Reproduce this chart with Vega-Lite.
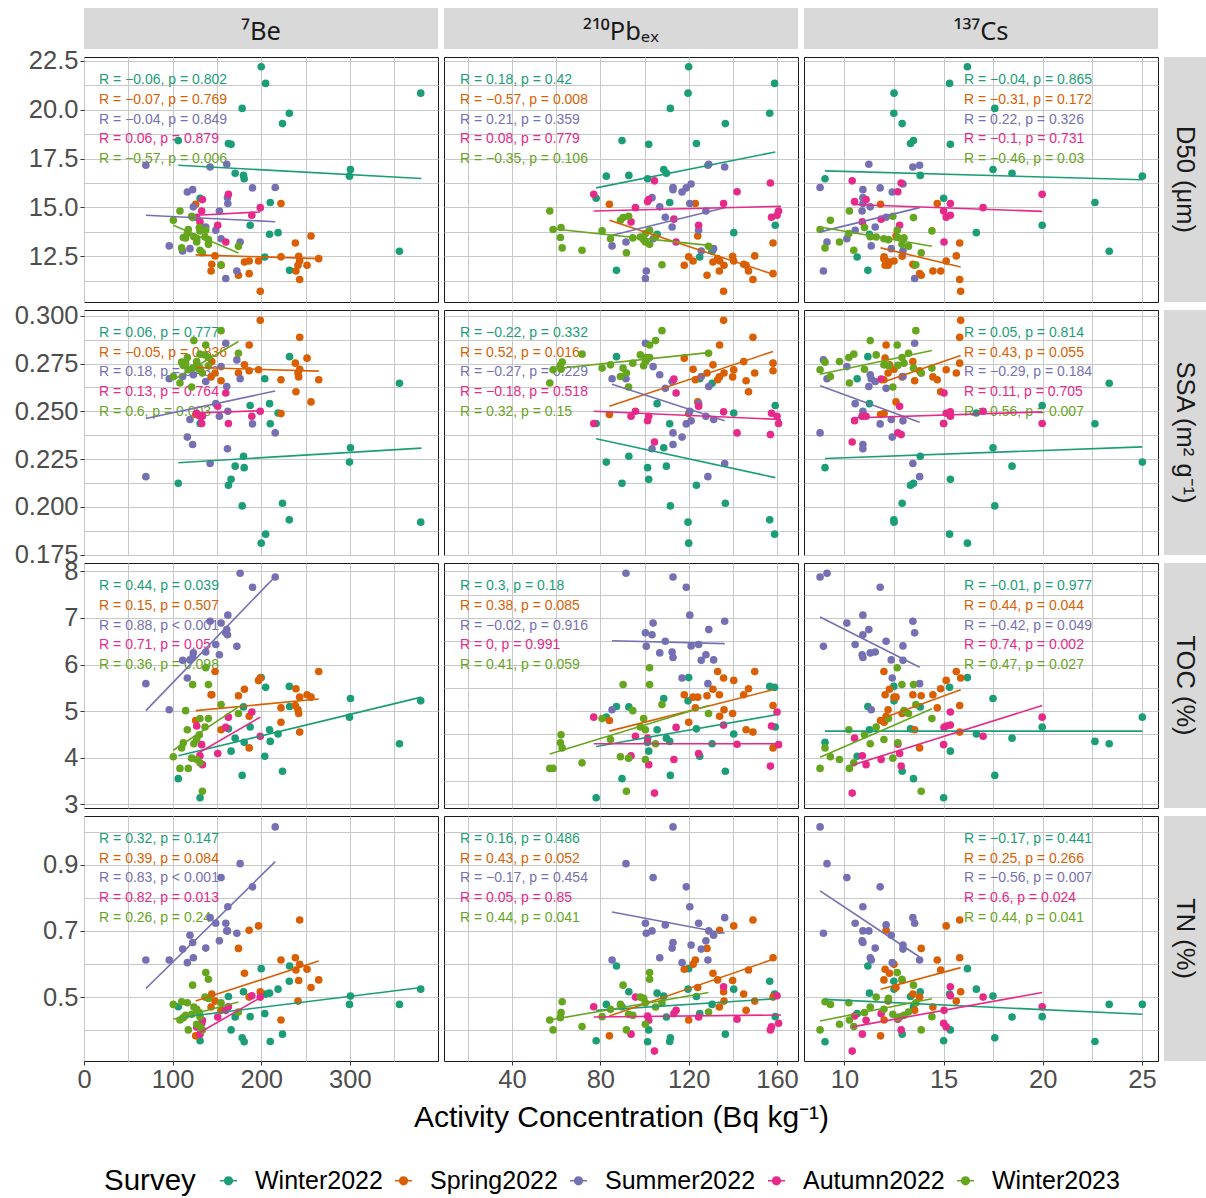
{
"$schema": "https://vega.github.io/schema/vega-lite/v6.json",
"padding": {"left": 13, "top": 8, "right": 0, "bottom": 0},
"background": "white",
"config": {
  "font": "Liberation Sans",
  "view": {"stroke": "#1A1A1A", "strokeWidth": 1},
  "range": {"category": ["#1B9E77", "#D95F02", "#7570B3", "#E7298A", "#66A61E"]},
  "axis": {"labelFont": "Liberation Sans", "labelFontSize": 25.5, "labelColor": "#4D4D4D", "tickColor": "#333333", "tickSize": 4, "tickWidth": 1, "gridColor": "#C8C8C8", "gridWidth": 1, "grid": true, "domain": false, "labelPadding": 2, "minExtent": 0, "labelOverlap": false, "labelFlush": false, "labelBound": false, "titleFont": "Liberation Sans", "titleFontSize": 30, "titleFontWeight": "normal", "titleColor": "#000000"},
  "legend": {"titleFontSize": 29.5, "titleFontWeight": "normal", "titleColor": "#000000", "titlePadding": 20, "labelFontSize": 25, "labelColor": "#000000", "labelOffset": 14, "columnPadding": 8, "symbolSize": 289, "symbolStrokeWidth": 1.6, "symbolOpacity": 1, "padding": 0, "titleFont": "Liberation Sans", "labelFont": "Liberation Sans"}
},
"datasets": {
"s": [
{"g":"Winter2022","Be":200,"Pb":120,"Cs":16.2,"D50":22.2,"SSA":0.181,"TOC":5.72,"TN":0.586},
{"g":"Winter2022","Be":205,"Pb":158.9,"Cs":15.3,"D50":21.35,"SSA":0.1857,"TOC":5.51,"TN":0.509},
{"g":"Winter2022","Be":380,"Pb":119.7,"Cs":12.5,"D50":20.85,"SSA":0.192,"TOC":5.22,"TN":0.524},
{"g":"Winter2022","Be":178.5,"Pb":111.7,"Cs":17.58,"D50":20.07,"SSA":0.2005,"TOC":3.62,"TN":0.377},
{"g":"Winter2022","Be":231.7,"Pb":156.7,"Cs":12.49,"D50":19.82,"SSA":0.1932,"TOC":5.53,"TN":0.548},
{"g":"Winter2022","Be":224,"Pb":136.6,"Cs":12.91,"D50":19.29,"SSA":0.2019,"TOC":3.71,"TN":0.388},
{"g":"Winter2022","Be":106.4,"Pb":89.8,"Cs":13.48,"D50":18.42,"SSA":0.2123,"TOC":3.55,"TN":0.471},
{"g":"Winter2022","Be":163,"Pb":123.5,"Cs":13.33,"D50":18.27,"SSA":0.2113,"TOC":4.62,"TN":0.502},
{"g":"Winter2022","Be":166,"Pb":101.9,"Cs":15.34,"D50":18.23,"SSA":0.2144,"TOC":4.14,"TN":0.401},
{"g":"Winter2022","Be":300.7,"Pb":108.7,"Cs":17.49,"D50":16.94,"SSA":0.2309,"TOC":5.27,"TN":0.503},
{"g":"Winter2022","Be":170.6,"Pb":109.9,"Cs":18.45,"D50":16.75,"SSA":0.2213,"TOC":4.42,"TN":0.44},
{"g":"Winter2022","Be":180,"Pb":92.9,"Cs":13.82,"D50":16.64,"SSA":0.2265,"TOC":5.09,"TN":0.516},
{"g":"Winter2022","Be":299.6,"Pb":82.7,"Cs":25.02,"D50":16.6,"SSA":0.2234,"TOC":4.87,"TN":0.478},
{"g":"Winter2022","Be":180.8,"Pb":101.4,"Cs":9.02,"D50":16.47,"SSA":0.2205,"TOC":4.33,"TN":0.365},
{"g":"Winter2022","Be":131,"Pb":78.1,"Cs":15.0,"D50":15.47,"SSA":0.2436,"TOC":3.14,"TN":0.368},
{"g":"Winter2022","Be":210.2,"Pb":111.4,"Cs":22.63,"D50":15.25,"SSA":0.2435,"TOC":4.35,"TN":0.366},
{"g":"Winter2022","Be":187.5,"Pb":159.2,"Cs":19.97,"D50":14.09,"SSA":0.253,"TOC":4.66,"TN":0.441},
{"g":"Winter2022","Be":219,"Pb":140.4,"Cs":16.65,"D50":13.71,"SSA":0.2491,"TOC":4.51,"TN":0.524},
{"g":"Winter2022","Be":209.4,"Pb":105.7,"Cs":11.26,"D50":13.63,"SSA":0.254,"TOC":4.6,"TN":0.512},
{"g":"Winter2022","Be":356,"Pb":130.6,"Cs":23.35,"D50":12.76,"SSA":0.2647,"TOC":4.3,"TN":0.478},
{"g":"Winter2022","Be":204,"Pb":125,"Cs":10.64,"D50":12.46,"SSA":0.267,"TOC":4.03,"TN":0.45},
{"g":"Winter2022","Be":232,"Pb":87.3,"Cs":11.18,"D50":11.78,"SSA":0.2786,"TOC":5.1,"TN":0.594},
{"g":"Spring2022","Be":126,"Pb":84.1,"Cs":11.82,"D50":15.16,"SSA":0.2483,"TOC":4.8,"TN":0.383},
{"g":"Spring2022","Be":143.4,"Pb":133.9,"Cs":14.46,"D50":11.75,"SSA":0.268,"TOC":5.35,"TN":0.47},
{"g":"Spring2022","Be":144.2,"Pb":144.9,"Cs":13.45,"D50":12.09,"SSA":0.276,"TOC":5.35,"TN":0.509},
{"g":"Spring2022","Be":147.9,"Pb":149.9,"Cs":15.64,"D50":12.52,"SSA":0.27,"TOC":5.85,"TN":0.488},
{"g":"Spring2022","Be":154.7,"Pb":146,"Cs":13.54,"D50":12.04,"SSA":0.266,"TOC":4.6,"TN":0.46},
{"g":"Spring2022","Be":174.3,"Pb":128.3,"Cs":13.87,"D50":11.53,"SSA":0.27,"TOC":5.33,"TN":0.647},
{"g":"Spring2022","Be":181.1,"Pb":131,"Cs":12.27,"D50":12.21,"SSA":0.2743,"TOC":5.47,"TN":0.572},
{"g":"Spring2022","Be":186.4,"Pb":134,"Cs":12.1,"D50":12.26,"SSA":0.2847,"TOC":4.89,"TN":0.702},
{"g":"Spring2022","Be":186.4,"Pb":158.2,"Cs":13.79,"D50":11.61,"SSA":0.2712,"TOC":4.21,"TN":0.5},
{"g":"Spring2022","Be":197,"Pb":140.4,"Cs":15.13,"D50":12.26,"SSA":0.2717,"TOC":5.66,"TN":0.715},
{"g":"Spring2022","Be":198.9,"Pb":135.8,"Cs":15.86,"D50":10.71,"SSA":0.2976,"TOC":5.71,"TN":0.516},
{"g":"Spring2022","Be":222.3,"Pb":123,"Cs":14.68,"D50":15.2,"SSA":0.2665,"TOC":5.07,"TN":0.612},
{"g":"Spring2022","Be":222.3,"Pb":120,"Cs":12.0,"D50":12.47,"SSA":0.2488,"TOC":4.76,"TN":0.431},
{"g":"Spring2022","Be":238.5,"Pb":158.2,"Cs":15.81,"D50":13.18,"SSA":0.2752,"TOC":5.12,"TN":0.619},
{"g":"Spring2022","Be":239.2,"Pb":147.1,"Cs":14.85,"D50":11.75,"SSA":0.2602,"TOC":5.48,"TN":0.582},
{"g":"Spring2022","Be":241.5,"Pb":136,"Cs":12.2,"D50":12.04,"SSA":0.27,"TOC":5.03,"TN":0.488},
{"g":"Spring2022","Be":242.3,"Pb":139.9,"Cs":12.91,"D50":12.5,"SSA":0.268,"TOC":4.95,"TN":0.55},
{"g":"Spring2022","Be":243.4,"Pb":149.1,"Cs":15.81,"D50":11.31,"SSA":0.2887,"TOC":4.55,"TN":0.733},
{"g":"Spring2022","Be":243.4,"Pb":122,"Cs":12.5,"D50":12.26,"SSA":0.272,"TOC":5.3,"TN":0.599},
{"g":"Spring2022","Be":251.7,"Pb":118,"Cs":12.05,"D50":12.04,"SSA":0.2778,"TOC":5.35,"TN":0.584},
{"g":"Spring2022","Be":256.2,"Pb":124.1,"Cs":12.6,"D50":13.54,"SSA":0.2549,"TOC":5.3,"TN":0.529},
{"g":"Spring2022","Be":264.9,"Pb":133.1,"Cs":11.99,"D50":12.38,"SSA":0.2665,"TOC":5.85,"TN":0.552},
{"g":"Summer2022","Be":69.8,"Pb":128.7,"Cs":13.79,"D50":17.16,"SSA":0.2158,"TOC":5.59,"TN":0.612},
{"g":"Summer2022","Be":96.2,"Pb":85.3,"Cs":11.35,"D50":13.03,"SSA":0.267,"TOC":5.03,"TN":0.612},
{"g":"Summer2022","Be":111.3,"Pb":125.7,"Cs":12.95,"D50":12.77,"SSA":0.2682,"TOC":6.09,"TN":0.645},
{"g":"Summer2022","Be":116.6,"Pb":117,"Cs":12.41,"D50":15.79,"SSA":0.2365,"TOC":5.71,"TN":0.604},
{"g":"Summer2022","Be":119.6,"Pb":131.3,"Cs":12.36,"D50":12.89,"SSA":0.2457,"TOC":6.1,"TN":0.687},
{"g":"Summer2022","Be":122.6,"Pb":112.9,"Cs":10.93,"D50":15.91,"SSA":0.2326,"TOC":6.15,"TN":0.665},
{"g":"Summer2022","Be":123.4,"Pb":106.9,"Cs":11.3,"D50":15.03,"SSA":0.2691,"TOC":6.25,"TN":0.619},
{"g":"Summer2022","Be":137.4,"Pb":112.5,"Cs":11.55,"D50":14.0,"SSA":0.2656,"TOC":6.27,"TN":0.648},
{"g":"Summer2022","Be":142.3,"Pb":136.3,"Cs":13.45,"D50":17.07,"SSA":0.2227,"TOC":6.93,"TN":0.74},
{"g":"Summer2022","Be":148.7,"Pb":124.5,"Cs":10.54,"D50":13.83,"SSA":0.254,"TOC":6.43,"TN":0.723},
{"g":"Summer2022","Be":152.8,"Pb":127.8,"Cs":10.89,"D50":14.82,"SSA":0.2474,"TOC":6.21,"TN":0.67},
{"g":"Summer2022","Be":154.7,"Pb":103.9,"Cs":10.12,"D50":13.4,"SSA":0.2734,"TOC":6.89,"TN":0.861},
{"g":"Summer2022","Be":160,"Pb":100.4,"Cs":13.54,"D50":11.36,"SSA":0.2856,"TOC":6.68,"TN":0.723},
{"g":"Summer2022","Be":161.1,"Pb":129.1,"Cs":11.23,"D50":17.21,"SSA":0.263,"TOC":6.75,"TN":0.7},
{"g":"Summer2022","Be":162.3,"Pb":120.5,"Cs":10.93,"D50":15.2,"SSA":0.25,"TOC":7.06,"TN":0.773},
{"g":"Summer2022","Be":161.9,"Pb":103.4,"Cs":10.93,"D50":15.5,"SSA":0.2304,"TOC":6.64,"TN":0.7},
{"g":"Summer2022","Be":172.5,"Pb":100.8,"Cs":8.94,"D50":11.75,"SSA":0.2769,"TOC":6.39,"TN":0.693},
{"g":"Summer2022","Be":176.2,"Pb":91.6,"Cs":9.12,"D50":13.23,"SSA":0.267,"TOC":7.96,"TN":0.903},
{"g":"Summer2022","Be":190.2,"Pb":118.9,"Cs":11.8,"D50":16.0,"SSA":0.2434,"TOC":7.66,"TN":0.833},
{"g":"Summer2022","Be":215.8,"Pb":112.9,"Cs":8.77,"D50":16.02,"SSA":0.2387,"TOC":7.88,"TN":1.014},
{"g":"Summer2022","Pb":109.4,"Cs":12.1,"D50":14.5,"SSA":0.262,"TOC":6.5,"TN":0.718},
{"g":"Summer2022","Pb":121.1,"Cs":12.95,"D50":16.2,"SSA":0.245,"TOC":6.4,"TN":0.657},
{"g":"Autumn2022","Be":127.2,"Pb":157.5,"Cs":15.13,"D50":14.5,"SSA":0.249,"TOC":4.68,"TN":0.41},
{"g":"Autumn2022","Be":130.9,"Pb":93.9,"Cs":10.9,"D50":14.26,"SSA":0.2474,"TOC":4.04,"TN":0.388},
{"g":"Autumn2022","Be":132.8,"Pb":160.7,"Cs":15.0,"D50":14.82,"SSA":0.2436,"TOC":4.28,"TN":0.421},
{"g":"Autumn2022","Be":133.6,"Pb":101.9,"Cs":11.09,"D50":15.4,"SSA":0.2474,"TOC":3.85,"TN":0.43},
{"g":"Autumn2022","Be":150.9,"Pb":124.5,"Cs":12.78,"D50":14.09,"SSA":0.2526,"TOC":4.09,"TN":0.44},
{"g":"Autumn2022","Be":160,"Pb":114.3,"Cs":15.02,"D50":13.23,"SSA":0.2596,"TOC":4.65,"TN":0.46},
{"g":"Autumn2022","Be":163,"Pb":77,"Cs":19.97,"D50":15.67,"SSA":0.2436,"TOC":4.87,"TN":0.471},
{"g":"Autumn2022","Be":189.4,"Pb":160,"Cs":15.34,"D50":14.6,"SSA":0.2474,"TOC":4.98,"TN":0.504},
{"g":"Autumn2022","Be":198.9,"Pb":95.9,"Cs":16.99,"D50":14.99,"SSA":0.25,"TOC":4.46,"TN":0.5},
{"g":"Autumn2022","Pb":104.5,"Cs":10.39,"D50":16.36,"SSA":0.2339,"TOC":3.24,"TN":0.337},
{"g":"Autumn2022","Pb":157,"Cs":12.86,"D50":16.25,"SSA":0.2378,"TOC":3.82,"TN":0.401},
{"g":"Autumn2022","Pb":141.9,"Cs":12.69,"D50":15.8,"SSA":0.2387,"TOC":4.29,"TN":0.433},
{"g":"Autumn2022","Pb":135.8,"Cs":15.34,"D50":15.2,"SSA":0.2497,"TOC":4.7,"TN":0.531},
{"g":"Autumn2022","Pb":101.4,"Cs":10.51,"D50":15.3,"SSA":0.2451,"TOC":4.42,"TN":0.443},
{"g":"Autumn2022","Pb":113.3,"Cs":11.85,"D50":14.4,"SSA":0.2668,"TOC":3.96,"TN":0.45},
{"g":"Winter2023","Be":137.4,"Pb":102.3,"Cs":12.66,"D50":13.83,"SSA":0.2847,"TOC":5.93,"TN":0.574},
{"g":"Winter2023","Be":122.6,"Pb":90.3,"Cs":13.48,"D50":14.48,"SSA":0.2726,"TOC":5.57,"TN":0.536},
{"g":"Winter2023","Be":140.4,"Pb":102.3,"Cs":12.9,"D50":13.11,"SSA":0.2781,"TOC":5.57,"TN":0.554},
{"g":"Winter2023","Be":114.7,"Pb":94.7,"Cs":13.0,"D50":13.44,"SSA":0.2752,"TOC":5.01,"TN":0.445},
{"g":"Winter2023","Be":130.9,"Pb":80.8,"Cs":14.41,"D50":13.8,"SSA":0.2726,"TOC":4.84,"TN":0.441},
{"g":"Winter2023","Be":140.4,"Pb":99.6,"Cs":12.22,"D50":13.35,"SSA":0.2738,"TOC":4.84,"TN":0.496},
{"g":"Winter2023","Be":136.6,"Pb":98.1,"Cs":11.6,"D50":13.49,"SSA":0.2795,"TOC":4.66,"TN":0.5},
{"g":"Winter2023","Be":154.7,"Pb":107.9,"Cs":13.6,"D50":12.07,"SSA":0.2922,"TOC":5.14,"TN":0.483},
{"g":"Winter2023","Be":174.3,"Pb":129,"Cs":13.23,"D50":13.01,"SSA":0.2804,"TOC":4.95,"TN":0.455},
{"g":"Winter2023","Be":116.6,"Pb":100.4,"Cs":10.22,"D50":13.66,"SSA":0.2781,"TOC":4.6,"TN":0.483},
{"g":"Winter2023","Be":130.2,"Pb":62.2,"Cs":11.01,"D50":13.97,"SSA":0.272,"TOC":4.49,"TN":0.453},
{"g":"Winter2023","Be":127.2,"Pb":84.6,"Cs":11.99,"D50":13.4,"SSA":0.2743,"TOC":4.39,"TN":0.463},
{"g":"Winter2023","Be":112.1,"Pb":61.9,"Cs":12.69,"D50":13.46,"SSA":0.274,"TOC":4.32,"TN":0.438},
{"g":"Winter2023","Be":110.2,"Pb":62.7,"Cs":9.02,"D50":12.93,"SSA":0.2757,"TOC":4.21,"TN":0.486},
{"g":"Winter2023","Be":100.8,"Pb":89.1,"Cs":9.29,"D50":14.34,"SSA":0.2682,"TOC":4.02,"TN":0.478},
{"g":"Winter2023","Be":121.5,"Pb":92.8,"Cs":12.44,"D50":14.55,"SSA":0.2627,"TOC":3.99,"TN":0.448},
{"g":"Winter2023","Be":127.2,"Pb":100.4,"Cs":9.75,"D50":13.23,"SSA":0.276,"TOC":3.96,"TN":0.418},
{"g":"Winter2023","Be":130.9,"Pb":71.7,"Cs":10.47,"D50":12.81,"SSA":0.2799,"TOC":3.89,"TN":0.411},
{"g":"Winter2023","Be":108.3,"Pb":57.1,"Cs":10.25,"D50":14.82,"SSA":0.2648,"TOC":3.77,"TN":0.431},
{"g":"Winter2023","Be":117.7,"Pb":58.6,"Cs":8.77,"D50":13.87,"SSA":0.2717,"TOC":3.77,"TN":0.401},
{"g":"Winter2023","Be":133.6,"Pb":91.8,"Cs":13.87,"D50":12.68,"SSA":0.27,"TOC":3.28,"TN":0.401},
{"g":"Winter2023","Be":124,"Pb":105,"Cs":11.3,"D50":13.5,"SSA":0.287,"TOC":4.3,"TN":0.47}
],
"fit": [
{"g":"Winter2022","xv":"Be","yv":"D50","x1":106.4,"x2":380.8,"y1":17.16,"y2":16.48},
{"g":"Spring2022","xv":"Be","yv":"D50","x1":126,"x2":264.9,"y1":12.57,"y2":12.38},
{"g":"Summer2022","xv":"Be","yv":"D50","x1":69.8,"x2":215.8,"y1":14.6,"y2":14.27},
{"g":"Autumn2022","xv":"Be","yv":"D50","x1":127.2,"x2":198.9,"y1":14.6,"y2":14.77},
{"g":"Winter2023","xv":"Be","yv":"D50","x1":100.8,"x2":174.3,"y1":14.09,"y2":12.67},
{"g":"Winter2022","xv":"Pb","yv":"D50","x1":78.1,"x2":159.2,"y1":16.0,"y2":17.84},
{"g":"Spring2022","xv":"Pb","yv":"D50","x1":84.1,"x2":158.2,"y1":14.34,"y2":11.58},
{"g":"Summer2022","xv":"Pb","yv":"D50","x1":85.3,"x2":136.3,"y1":13.58,"y2":14.98},
{"g":"Autumn2022","xv":"Pb","yv":"D50","x1":77,"x2":161.8,"y1":14.82,"y2":15.06},
{"g":"Winter2023","xv":"Pb","yv":"D50","x1":57.1,"x2":129,"y1":13.92,"y2":13.06},
{"g":"Winter2022","xv":"Cs","yv":"D50","x1":9.02,"x2":25.02,"y1":16.87,"y2":16.42},
{"g":"Spring2022","xv":"Cs","yv":"D50","x1":11.82,"x2":15.86,"y1":12.93,"y2":11.95},
{"g":"Summer2022","xv":"Cs","yv":"D50","x1":8.77,"x2":13.79,"y1":13.75,"y2":14.99},
{"g":"Autumn2022","xv":"Cs","yv":"D50","x1":10.39,"x2":19.97,"y1":15.15,"y2":14.8},
{"g":"Winter2023","xv":"Cs","yv":"D50","x1":8.77,"x2":14.41,"y1":14.0,"y2":13.01},
{"g":"Winter2022","xv":"Be","yv":"SSA","x1":106.4,"x2":380.8,"y1":0.2231,"y2":0.2307},
{"g":"Spring2022","xv":"Be","yv":"SSA","x1":126,"x2":264.9,"y1":0.2729,"y2":0.271},
{"g":"Summer2022","xv":"Be","yv":"SSA","x1":69.8,"x2":215.8,"y1":0.2462,"y2":0.2606},
{"g":"Autumn2022","xv":"Be","yv":"SSA","x1":127.2,"x2":198.9,"y1":0.2491,"y2":0.2503},
{"g":"Winter2023","xv":"Be","yv":"SSA","x1":100.8,"x2":174.3,"y1":0.2665,"y2":0.2865},
{"g":"Winter2022","xv":"Pb","yv":"SSA","x1":78.1,"x2":159.2,"y1":0.2356,"y2":0.2153},
{"g":"Spring2022","xv":"Pb","yv":"SSA","x1":84.1,"x2":158.2,"y1":0.2526,"y2":0.2813},
{"g":"Summer2022","xv":"Pb","yv":"SSA","x1":85.3,"x2":136.3,"y1":0.2642,"y2":0.2451},
{"g":"Autumn2022","xv":"Pb","yv":"SSA","x1":77,"x2":161.8,"y1":0.25,"y2":0.2457},
{"g":"Winter2023","xv":"Pb","yv":"SSA","x1":57.1,"x2":129,"y1":0.272,"y2":0.2807},
{"g":"Winter2022","xv":"Cs","yv":"SSA","x1":9.02,"x2":25.02,"y1":0.2253,"y2":0.2314},
{"g":"Spring2022","xv":"Cs","yv":"SSA","x1":11.82,"x2":15.86,"y1":0.2648,"y2":0.2792},
{"g":"Summer2022","xv":"Cs","yv":"SSA","x1":8.77,"x2":13.79,"y1":0.2634,"y2":0.2443},
{"g":"Autumn2022","xv":"Cs","yv":"SSA","x1":10.39,"x2":19.97,"y1":0.2465,"y2":0.2497},
{"g":"Winter2023","xv":"Cs","yv":"SSA","x1":8.77,"x2":14.41,"y1":0.2694,"y2":0.2818},
{"g":"Winter2022","xv":"Be","yv":"TOC","x1":106.4,"x2":380.8,"y1":4.04,"y2":5.3},
{"g":"Spring2022","xv":"Be","yv":"TOC","x1":126,"x2":264.9,"y1":5.01,"y2":5.26},
{"g":"Summer2022","xv":"Be","yv":"TOC","x1":69.8,"x2":215.8,"y1":5.01,"y2":7.89},
{"g":"Autumn2022","xv":"Be","yv":"TOC","x1":127.2,"x2":198.9,"y1":4.08,"y2":4.87},
{"g":"Winter2023","xv":"Be","yv":"TOC","x1":100.8,"x2":174.3,"y1":4.16,"y2":5.09},
{"g":"Winter2022","xv":"Pb","yv":"TOC","x1":78.1,"x2":159.2,"y1":4.24,"y2":4.92},
{"g":"Spring2022","xv":"Pb","yv":"TOC","x1":84.1,"x2":158.2,"y1":4.57,"y2":5.46},
{"g":"Summer2022","xv":"Pb","yv":"TOC","x1":85.3,"x2":136.3,"y1":6.51,"y2":6.45},
{"g":"Autumn2022","xv":"Pb","yv":"TOC","x1":77,"x2":161.8,"y1":4.3,"y2":4.3},
{"g":"Winter2023","xv":"Pb","yv":"TOC","x1":57.1,"x2":129,"y1":4.08,"y2":5.12},
{"g":"Winter2022","xv":"Cs","yv":"TOC","x1":9.02,"x2":25.02,"y1":4.57,"y2":4.57},
{"g":"Spring2022","xv":"Cs","yv":"TOC","x1":11.82,"x2":15.86,"y1":4.83,"y2":5.46},
{"g":"Summer2022","xv":"Cs","yv":"TOC","x1":8.77,"x2":13.79,"y1":7.02,"y2":5.94},
{"g":"Autumn2022","xv":"Cs","yv":"TOC","x1":10.39,"x2":19.97,"y1":3.84,"y2":5.12},
{"g":"Winter2023","xv":"Cs","yv":"TOC","x1":8.77,"x2":14.41,"y1":4.01,"y2":5.05},
{"g":"Winter2022","xv":"Be","yv":"TN","x1":106.4,"x2":380.8,"y1":0.438,"y2":0.529},
{"g":"Spring2022","xv":"Be","yv":"TN","x1":126,"x2":264.9,"y1":0.488,"y2":0.609},
{"g":"Summer2022","xv":"Be","yv":"TN","x1":69.8,"x2":215.8,"y1":0.526,"y2":0.909},
{"g":"Autumn2022","xv":"Be","yv":"TN","x1":127.2,"x2":198.9,"y1":0.388,"y2":0.498},
{"g":"Winter2023","xv":"Be","yv":"TN","x1":100.8,"x2":174.3,"y1":0.433,"y2":0.485},
{"g":"Winter2022","xv":"Pb","yv":"TN","x1":78.1,"x2":159.2,"y1":0.46,"y2":0.495},
{"g":"Spring2022","xv":"Pb","yv":"TN","x1":84.1,"x2":158.2,"y1":0.443,"y2":0.614},
{"g":"Summer2022","xv":"Pb","yv":"TN","x1":85.3,"x2":136.3,"y1":0.757,"y2":0.693},
{"g":"Autumn2022","xv":"Pb","yv":"TN","x1":77,"x2":161.8,"y1":0.44,"y2":0.446},
{"g":"Winter2023","xv":"Pb","yv":"TN","x1":57.1,"x2":129,"y1":0.431,"y2":0.514},
{"g":"Winter2022","xv":"Cs","yv":"TN","x1":9.02,"x2":25.02,"y1":0.493,"y2":0.448},
{"g":"Spring2022","xv":"Cs","yv":"TN","x1":11.82,"x2":15.86,"y1":0.524,"y2":0.589},
{"g":"Summer2022","xv":"Cs","yv":"TN","x1":8.77,"x2":13.79,"y1":0.821,"y2":0.621},
{"g":"Autumn2022","xv":"Cs","yv":"TN","x1":10.39,"x2":19.97,"y1":0.41,"y2":0.514},
{"g":"Winter2023","xv":"Cs","yv":"TN","x1":8.77,"x2":14.41,"y1":0.428,"y2":0.495}
],
"lab": [
{"g":"Winter2022","xv":"Be","yv":"D50","x":17,"y":21.54,"t":"R = −0.06, p = 0.802"},
{"g":"Spring2022","xv":"Be","yv":"D50","x":17,"y":20.52,"t":"R = −0.07, p = 0.769"},
{"g":"Summer2022","xv":"Be","yv":"D50","x":17,"y":19.5,"t":"R = −0.04, p = 0.849"},
{"g":"Autumn2022","xv":"Be","yv":"D50","x":17,"y":18.49,"t":"R = 0.06, p = 0.879"},
{"g":"Winter2023","xv":"Be","yv":"D50","x":17,"y":17.48,"t":"R = −0.57, p = 0.006"},
{"g":"Winter2022","xv":"Pb","yv":"D50","x":16.4,"y":21.54,"t":"R = 0.18, p = 0.42"},
{"g":"Spring2022","xv":"Pb","yv":"D50","x":16.4,"y":20.52,"t":"R = −0.57, p = 0.008"},
{"g":"Summer2022","xv":"Pb","yv":"D50","x":16.4,"y":19.5,"t":"R = 0.21, p = 0.359"},
{"g":"Autumn2022","xv":"Pb","yv":"D50","x":16.4,"y":18.49,"t":"R = 0.08, p = 0.779"},
{"g":"Winter2023","xv":"Pb","yv":"D50","x":16.4,"y":17.48,"t":"R = −0.35, p = 0.106"},
{"g":"Winter2022","xv":"Cs","yv":"D50","x":16.03,"y":21.54,"t":"R = −0.04, p = 0.865"},
{"g":"Spring2022","xv":"Cs","yv":"D50","x":16.03,"y":20.52,"t":"R = −0.31, p = 0.172"},
{"g":"Summer2022","xv":"Cs","yv":"D50","x":16.03,"y":19.5,"t":"R = 0.22, p = 0.326"},
{"g":"Autumn2022","xv":"Cs","yv":"D50","x":16.03,"y":18.49,"t":"R = −0.1, p = 0.731"},
{"g":"Winter2023","xv":"Cs","yv":"D50","x":16.03,"y":17.48,"t":"R = −0.46, p = 0.03"},
{"g":"Winter2022","xv":"Be","yv":"SSA","x":17,"y":0.2912,"t":"R = 0.06, p = 0.777"},
{"g":"Spring2022","xv":"Be","yv":"SSA","x":17,"y":0.2807,"t":"R = −0.05, p = 0.836"},
{"g":"Summer2022","xv":"Be","yv":"SSA","x":17,"y":0.2704,"t":"R = 0.18, p = 0.432"},
{"g":"Autumn2022","xv":"Be","yv":"SSA","x":17,"y":0.2601,"t":"R = 0.13, p = 0.764"},
{"g":"Winter2023","xv":"Be","yv":"SSA","x":17,"y":0.2498,"t":"R = 0.6, p = 0.003"},
{"g":"Winter2022","xv":"Pb","yv":"SSA","x":16.4,"y":0.2912,"t":"R = −0.22, p = 0.332"},
{"g":"Spring2022","xv":"Pb","yv":"SSA","x":16.4,"y":0.2807,"t":"R = 0.52, p = 0.016"},
{"g":"Summer2022","xv":"Pb","yv":"SSA","x":16.4,"y":0.2704,"t":"R = −0.27, p = 0.229"},
{"g":"Autumn2022","xv":"Pb","yv":"SSA","x":16.4,"y":0.2601,"t":"R = −0.18, p = 0.518"},
{"g":"Winter2023","xv":"Pb","yv":"SSA","x":16.4,"y":0.2498,"t":"R = 0.32, p = 0.15"},
{"g":"Winter2022","xv":"Cs","yv":"SSA","x":16.03,"y":0.2912,"t":"R = 0.05, p = 0.814"},
{"g":"Spring2022","xv":"Cs","yv":"SSA","x":16.03,"y":0.2807,"t":"R = 0.43, p = 0.055"},
{"g":"Summer2022","xv":"Cs","yv":"SSA","x":16.03,"y":0.2704,"t":"R = −0.29, p = 0.184"},
{"g":"Autumn2022","xv":"Cs","yv":"SSA","x":16.03,"y":0.2601,"t":"R = 0.11, p = 0.705"},
{"g":"Winter2023","xv":"Cs","yv":"SSA","x":16.03,"y":0.2498,"t":"R = 0.56, p = 0.007"},
{"g":"Winter2022","xv":"Be","yv":"TOC","x":17,"y":7.691,"t":"R = 0.44, p = 0.039"},
{"g":"Spring2022","xv":"Be","yv":"TOC","x":17,"y":7.262,"t":"R = 0.15, p = 0.507"},
{"g":"Summer2022","xv":"Be","yv":"TOC","x":17,"y":6.837,"t":"R = 0.88, p < 0.001"},
{"g":"Autumn2022","xv":"Be","yv":"TOC","x":17,"y":6.412,"t":"R = 0.71, p = 0.05"},
{"g":"Winter2023","xv":"Be","yv":"TOC","x":17,"y":5.987,"t":"R = 0.36, p = 0.098"},
{"g":"Winter2022","xv":"Pb","yv":"TOC","x":16.4,"y":7.691,"t":"R = 0.3, p = 0.18"},
{"g":"Spring2022","xv":"Pb","yv":"TOC","x":16.4,"y":7.262,"t":"R = 0.38, p = 0.085"},
{"g":"Summer2022","xv":"Pb","yv":"TOC","x":16.4,"y":6.837,"t":"R = −0.02, p = 0.916"},
{"g":"Autumn2022","xv":"Pb","yv":"TOC","x":16.4,"y":6.412,"t":"R = 0, p = 0.991"},
{"g":"Winter2023","xv":"Pb","yv":"TOC","x":16.4,"y":5.987,"t":"R = 0.41, p = 0.059"},
{"g":"Winter2022","xv":"Cs","yv":"TOC","x":16.03,"y":7.691,"t":"R = −0.01, p = 0.977"},
{"g":"Spring2022","xv":"Cs","yv":"TOC","x":16.03,"y":7.262,"t":"R = 0.44, p = 0.044"},
{"g":"Summer2022","xv":"Cs","yv":"TOC","x":16.03,"y":6.837,"t":"R = −0.42, p = 0.049"},
{"g":"Autumn2022","xv":"Cs","yv":"TOC","x":16.03,"y":6.412,"t":"R = 0.74, p = 0.002"},
{"g":"Winter2023","xv":"Cs","yv":"TOC","x":16.03,"y":5.987,"t":"R = 0.47, p = 0.027"},
{"g":"Winter2022","xv":"Be","yv":"TN","x":17,"y":0.9789,"t":"R = 0.32, p = 0.147"},
{"g":"Spring2022","xv":"Be","yv":"TN","x":17,"y":0.9184,"t":"R = 0.39, p = 0.084"},
{"g":"Summer2022","xv":"Be","yv":"TN","x":17,"y":0.8586,"t":"R = 0.83, p < 0.001"},
{"g":"Autumn2022","xv":"Be","yv":"TN","x":17,"y":0.7988,"t":"R = 0.82, p = 0.013"},
{"g":"Winter2023","xv":"Be","yv":"TN","x":17,"y":0.739,"t":"R = 0.26, p = 0.24"},
{"g":"Winter2022","xv":"Pb","yv":"TN","x":16.4,"y":0.9789,"t":"R = 0.16, p = 0.486"},
{"g":"Spring2022","xv":"Pb","yv":"TN","x":16.4,"y":0.9184,"t":"R = 0.43, p = 0.052"},
{"g":"Summer2022","xv":"Pb","yv":"TN","x":16.4,"y":0.8586,"t":"R = −0.17, p = 0.454"},
{"g":"Autumn2022","xv":"Pb","yv":"TN","x":16.4,"y":0.7988,"t":"R = 0.05, p = 0.85"},
{"g":"Winter2023","xv":"Pb","yv":"TN","x":16.4,"y":0.739,"t":"R = 0.44, p = 0.041"},
{"g":"Winter2022","xv":"Cs","yv":"TN","x":16.03,"y":0.9789,"t":"R = −0.17, p = 0.441"},
{"g":"Spring2022","xv":"Cs","yv":"TN","x":16.03,"y":0.9184,"t":"R = 0.25, p = 0.266"},
{"g":"Summer2022","xv":"Cs","yv":"TN","x":16.03,"y":0.8586,"t":"R = −0.56, p = 0.007"},
{"g":"Autumn2022","xv":"Cs","yv":"TN","x":16.03,"y":0.7988,"t":"R = 0.6, p = 0.024"},
{"g":"Winter2023","xv":"Cs","yv":"TN","x":16.03,"y":0.739,"t":"R = 0.44, p = 0.041"}
]
},
"columns": 4,
"spacing": {"row": 8, "column": 6},
"align": "each",
"bounds": "flush",
"resolve": {"scale": {"x": "independent", "y": "independent", "color": "shared", "fill": "shared", "stroke": "shared"}, "legend": {"color": "shared", "fill": "shared", "stroke": "shared"}},
"concat": [
{"width": 354, "height": 41, "view": {"fill": "#D9D9D9", "stroke": null}, "data": {"values": [{"t": "⁷Be"}]}, "mark": {"type": "text", "fontSize": 25.5, "font": "Noto Sans", "color": "#1A1A1A", "dy": 3}, "encoding": {"text": {"field": "t"}}},
{"width": 354, "height": 41, "view": {"fill": "#D9D9D9", "stroke": null}, "data": {"values": [{"t": "²¹⁰Pbₑₓ"}]}, "mark": {"type": "text", "fontSize": 25.5, "font": "Noto Sans", "color": "#1A1A1A", "dy": 3}, "encoding": {"text": {"field": "t"}}},
{"width": 354, "height": 41, "view": {"fill": "#D9D9D9", "stroke": null}, "data": {"values": [{"t": "¹³⁷Cs"}]}, "mark": {"type": "text", "fontSize": 25.5, "font": "Noto Sans", "color": "#1A1A1A", "dy": 3}, "encoding": {"text": {"field": "t"}}},
{"width": 42, "height": 41, "view": {"stroke": null}, "data": {"values": [{"t": ""}]}, "mark": {"type": "text"}, "encoding": {"text": {"field": "t"}}},

{"width": 354, "height": 245, "layer": [
 {"data": {"name": "lab"}, "transform": [{"filter": "datum.xv==='Be' && datum.yv==='D50'"}], "mark": {"type": "text", "align": "left", "baseline": "middle", "fontSize": 14},
  "encoding": {"x": {"field": "x", "type": "quantitative", "scale": {"domain": [0, 399.5], "nice": false, "zero": false}, "axis": {"values": [0,50,100,150,200,250,300,350], "labels": false, "ticks": false, "title": null}}, "y": {"field": "y", "type": "quantitative", "scale": {"domain": [10.16, 22.7], "nice": false, "zero": false}, "axis": {"values": [11.25,12.5,13.75,15,16.25,17.5,18.75,20,21.25,22.5], "format": ".1f", "labelExpr": "datum.value % 2.5 === 0 ? datum.label : ''", "tickOpacity": {"condition": {"test": "datum.value % 2.5 === 0", "value": 1}, "value": 0}, "title": null}}, "text": {"field": "t"}, "fill": {"field": "g", "type": "nominal", "scale": {"domain": ["Winter2022","Spring2022","Summer2022","Autumn2022","Winter2023"], "range": ["#1B9E77","#D95F02","#7570B3","#E7298A","#66A61E"]}, "legend": {"title": "Survey", "orient": "none", "legendX": 20, "legendY": 1160, "direction": "horizontal", "titleOrient": "left", "symbolType": "M -1 0 L 1 0 M 0.45 0 A 0.45 0.45 0 1 1 -0.45 0 A 0.45 0.45 0 1 1 0.45 0 Z", "symbolSize": 289, "symbolStrokeWidth": 1.6}}}},
 {"data": {"name": "s"}, "mark": {"type": "circle", "size": 58, "opacity": 1, "invalid": "filter"},
  "encoding": {"x": {"field": "Be", "type": "quantitative", "scale": {"domain": [0, 399.5], "nice": false, "zero": false}, "axis": {"values": [0,50,100,150,200,250,300,350], "labels": false, "ticks": false, "title": null}}, "y": {"field": "D50", "type": "quantitative", "scale": {"domain": [10.16, 22.7], "nice": false, "zero": false}, "axis": {"values": [11.25,12.5,13.75,15,16.25,17.5,18.75,20,21.25,22.5], "format": ".1f", "labelExpr": "datum.value % 2.5 === 0 ? datum.label : ''", "tickOpacity": {"condition": {"test": "datum.value % 2.5 === 0", "value": 1}, "value": 0}, "title": null}}, "color": {"field": "g", "type": "nominal", "scale": {"domain": ["Winter2022","Spring2022","Summer2022","Autumn2022","Winter2023"]}, "legend": {"title": "Survey", "orient": "none", "legendX": 20, "legendY": 1160, "direction": "horizontal", "titleOrient": "left", "symbolType": "M -1 0 L 1 0 M 0.45 0 A 0.45 0.45 0 1 1 -0.45 0 A 0.45 0.45 0 1 1 0.45 0 Z", "symbolSize": 289, "symbolStrokeWidth": 1.6}}}},
 {"data": {"name": "fit"}, "transform": [{"filter": "datum.xv==='Be' && datum.yv==='D50'"}], "mark": {"type": "rule", "strokeWidth": 1.6},
  "encoding": {"x": {"field": "x1", "type": "quantitative", "scale": {"domain": [0, 399.5], "nice": false, "zero": false}, "axis": {"values": [0,50,100,150,200,250,300,350], "labels": false, "ticks": false, "title": null}}, "x2": {"field": "x2"}, "y": {"field": "y1", "type": "quantitative", "scale": {"domain": [10.16, 22.7], "nice": false, "zero": false}, "axis": {"values": [11.25,12.5,13.75,15,16.25,17.5,18.75,20,21.25,22.5], "format": ".1f", "labelExpr": "datum.value % 2.5 === 0 ? datum.label : ''", "tickOpacity": {"condition": {"test": "datum.value % 2.5 === 0", "value": 1}, "value": 0}, "title": null}}, "y2": {"field": "y2"}, "stroke": {"field": "g", "type": "nominal", "scale": {"domain": ["Winter2022","Spring2022","Summer2022","Autumn2022","Winter2023"], "range": ["#1B9E77","#D95F02","#7570B3","#E7298A","#66A61E"]}, "legend": {"title": "Survey", "orient": "none", "legendX": 20, "legendY": 1160, "direction": "horizontal", "titleOrient": "left", "symbolType": "M -1 0 L 1 0 M 0.45 0 A 0.45 0.45 0 1 1 -0.45 0 A 0.45 0.45 0 1 1 0.45 0 Z", "symbolSize": 289, "symbolStrokeWidth": 1.6}}}}
]},
{"width": 354, "height": 245, "layer": [
 {"data": {"name": "lab"}, "transform": [{"filter": "datum.xv==='Pb' && datum.yv==='D50'"}], "mark": {"type": "text", "align": "left", "baseline": "middle", "fontSize": 14},
  "encoding": {"x": {"field": "x", "type": "quantitative", "scale": {"domain": [9.2, 169.5], "nice": false, "zero": false}, "axis": {"values": [20,40,60,80,100,120,140,160], "labels": false, "ticks": false, "title": null}}, "y": {"field": "y", "type": "quantitative", "scale": {"domain": [10.16, 22.7], "nice": false, "zero": false}, "axis": {"values": [11.25,12.5,13.75,15,16.25,17.5,18.75,20,21.25,22.5], "labels": false, "ticks": false, "title": null}}, "text": {"field": "t"}, "fill": {"field": "g", "type": "nominal", "scale": {"domain": ["Winter2022","Spring2022","Summer2022","Autumn2022","Winter2023"], "range": ["#1B9E77","#D95F02","#7570B3","#E7298A","#66A61E"]}, "legend": {"title": "Survey", "orient": "none", "legendX": 20, "legendY": 1160, "direction": "horizontal", "titleOrient": "left", "symbolType": "M -1 0 L 1 0 M 0.45 0 A 0.45 0.45 0 1 1 -0.45 0 A 0.45 0.45 0 1 1 0.45 0 Z", "symbolSize": 289, "symbolStrokeWidth": 1.6}}}},
 {"data": {"name": "s"}, "mark": {"type": "circle", "size": 58, "opacity": 1, "invalid": "filter"},
  "encoding": {"x": {"field": "Pb", "type": "quantitative", "scale": {"domain": [9.2, 169.5], "nice": false, "zero": false}, "axis": {"values": [20,40,60,80,100,120,140,160], "labels": false, "ticks": false, "title": null}}, "y": {"field": "D50", "type": "quantitative", "scale": {"domain": [10.16, 22.7], "nice": false, "zero": false}, "axis": {"values": [11.25,12.5,13.75,15,16.25,17.5,18.75,20,21.25,22.5], "labels": false, "ticks": false, "title": null}}, "color": {"field": "g", "type": "nominal", "scale": {"domain": ["Winter2022","Spring2022","Summer2022","Autumn2022","Winter2023"]}, "legend": {"title": "Survey", "orient": "none", "legendX": 20, "legendY": 1160, "direction": "horizontal", "titleOrient": "left", "symbolType": "M -1 0 L 1 0 M 0.45 0 A 0.45 0.45 0 1 1 -0.45 0 A 0.45 0.45 0 1 1 0.45 0 Z", "symbolSize": 289, "symbolStrokeWidth": 1.6}}}},
 {"data": {"name": "fit"}, "transform": [{"filter": "datum.xv==='Pb' && datum.yv==='D50'"}], "mark": {"type": "rule", "strokeWidth": 1.6},
  "encoding": {"x": {"field": "x1", "type": "quantitative", "scale": {"domain": [9.2, 169.5], "nice": false, "zero": false}, "axis": {"values": [20,40,60,80,100,120,140,160], "labels": false, "ticks": false, "title": null}}, "x2": {"field": "x2"}, "y": {"field": "y1", "type": "quantitative", "scale": {"domain": [10.16, 22.7], "nice": false, "zero": false}, "axis": {"values": [11.25,12.5,13.75,15,16.25,17.5,18.75,20,21.25,22.5], "labels": false, "ticks": false, "title": null}}, "y2": {"field": "y2"}, "stroke": {"field": "g", "type": "nominal", "scale": {"domain": ["Winter2022","Spring2022","Summer2022","Autumn2022","Winter2023"], "range": ["#1B9E77","#D95F02","#7570B3","#E7298A","#66A61E"]}, "legend": {"title": "Survey", "orient": "none", "legendX": 20, "legendY": 1160, "direction": "horizontal", "titleOrient": "left", "symbolType": "M -1 0 L 1 0 M 0.45 0 A 0.45 0.45 0 1 1 -0.45 0 A 0.45 0.45 0 1 1 0.45 0 Z", "symbolSize": 289, "symbolStrokeWidth": 1.6}}}}
]},
{"width": 354, "height": 245, "layer": [
 {"data": {"name": "lab"}, "transform": [{"filter": "datum.xv==='Cs' && datum.yv==='D50'"}], "mark": {"type": "text", "align": "left", "baseline": "middle", "fontSize": 14},
  "encoding": {"x": {"field": "x", "type": "quantitative", "scale": {"domain": [7.96, 25.81], "nice": false, "zero": false}, "axis": {"values": [10,12.5,15,17.5,20,22.5,25], "labels": false, "ticks": false, "title": null}}, "y": {"field": "y", "type": "quantitative", "scale": {"domain": [10.16, 22.7], "nice": false, "zero": false}, "axis": {"values": [11.25,12.5,13.75,15,16.25,17.5,18.75,20,21.25,22.5], "labels": false, "ticks": false, "title": null}}, "text": {"field": "t"}, "fill": {"field": "g", "type": "nominal", "scale": {"domain": ["Winter2022","Spring2022","Summer2022","Autumn2022","Winter2023"], "range": ["#1B9E77","#D95F02","#7570B3","#E7298A","#66A61E"]}, "legend": {"title": "Survey", "orient": "none", "legendX": 20, "legendY": 1160, "direction": "horizontal", "titleOrient": "left", "symbolType": "M -1 0 L 1 0 M 0.45 0 A 0.45 0.45 0 1 1 -0.45 0 A 0.45 0.45 0 1 1 0.45 0 Z", "symbolSize": 289, "symbolStrokeWidth": 1.6}}}},
 {"data": {"name": "s"}, "mark": {"type": "circle", "size": 58, "opacity": 1, "invalid": "filter"},
  "encoding": {"x": {"field": "Cs", "type": "quantitative", "scale": {"domain": [7.96, 25.81], "nice": false, "zero": false}, "axis": {"values": [10,12.5,15,17.5,20,22.5,25], "labels": false, "ticks": false, "title": null}}, "y": {"field": "D50", "type": "quantitative", "scale": {"domain": [10.16, 22.7], "nice": false, "zero": false}, "axis": {"values": [11.25,12.5,13.75,15,16.25,17.5,18.75,20,21.25,22.5], "labels": false, "ticks": false, "title": null}}, "color": {"field": "g", "type": "nominal", "scale": {"domain": ["Winter2022","Spring2022","Summer2022","Autumn2022","Winter2023"]}, "legend": {"title": "Survey", "orient": "none", "legendX": 20, "legendY": 1160, "direction": "horizontal", "titleOrient": "left", "symbolType": "M -1 0 L 1 0 M 0.45 0 A 0.45 0.45 0 1 1 -0.45 0 A 0.45 0.45 0 1 1 0.45 0 Z", "symbolSize": 289, "symbolStrokeWidth": 1.6}}}},
 {"data": {"name": "fit"}, "transform": [{"filter": "datum.xv==='Cs' && datum.yv==='D50'"}], "mark": {"type": "rule", "strokeWidth": 1.6},
  "encoding": {"x": {"field": "x1", "type": "quantitative", "scale": {"domain": [7.96, 25.81], "nice": false, "zero": false}, "axis": {"values": [10,12.5,15,17.5,20,22.5,25], "labels": false, "ticks": false, "title": null}}, "x2": {"field": "x2"}, "y": {"field": "y1", "type": "quantitative", "scale": {"domain": [10.16, 22.7], "nice": false, "zero": false}, "axis": {"values": [11.25,12.5,13.75,15,16.25,17.5,18.75,20,21.25,22.5], "labels": false, "ticks": false, "title": null}}, "y2": {"field": "y2"}, "stroke": {"field": "g", "type": "nominal", "scale": {"domain": ["Winter2022","Spring2022","Summer2022","Autumn2022","Winter2023"], "range": ["#1B9E77","#D95F02","#7570B3","#E7298A","#66A61E"]}, "legend": {"title": "Survey", "orient": "none", "legendX": 20, "legendY": 1160, "direction": "horizontal", "titleOrient": "left", "symbolType": "M -1 0 L 1 0 M 0.45 0 A 0.45 0.45 0 1 1 -0.45 0 A 0.45 0.45 0 1 1 0.45 0 Z", "symbolSize": 289, "symbolStrokeWidth": 1.6}}}}
]},
{"width": 42, "height": 245, "view": {"fill": "#D9D9D9", "stroke": null}, "data": {"values": [{"t": "D50 (μm)"}]}, "mark": {"type": "text", "fontSize": 25.5, "color": "#1A1A1A", "angle": 90}, "encoding": {"text": {"field": "t"}}},

{"width": 354, "height": 245, "layer": [
 {"data": {"name": "lab"}, "transform": [{"filter": "datum.xv==='Be' && datum.yv==='SSA'"}], "mark": {"type": "text", "align": "left", "baseline": "middle", "fontSize": 14},
  "encoding": {"x": {"field": "x", "type": "quantitative", "scale": {"domain": [0, 399.5], "nice": false, "zero": false}, "axis": {"values": [0,50,100,150,200,250,300,350], "labels": false, "ticks": false, "title": null}}, "y": {"field": "y", "type": "quantitative", "scale": {"domain": [0.1748, 0.303], "nice": false, "zero": false}, "axis": {"values": [0.175,0.1875,0.2,0.2125,0.225,0.2375,0.25,0.2625,0.275,0.2875,0.3], "format": ".3f", "labelExpr": "round(datum.value*1000) % 25 === 0 ? datum.label : ''", "tickOpacity": {"condition": {"test": "round(datum.value*1000) % 25 === 0", "value": 1}, "value": 0}, "title": null}}, "text": {"field": "t"}, "fill": {"field": "g", "type": "nominal", "scale": {"domain": ["Winter2022","Spring2022","Summer2022","Autumn2022","Winter2023"], "range": ["#1B9E77","#D95F02","#7570B3","#E7298A","#66A61E"]}, "legend": {"title": "Survey", "orient": "none", "legendX": 20, "legendY": 1160, "direction": "horizontal", "titleOrient": "left", "symbolType": "M -1 0 L 1 0 M 0.45 0 A 0.45 0.45 0 1 1 -0.45 0 A 0.45 0.45 0 1 1 0.45 0 Z", "symbolSize": 289, "symbolStrokeWidth": 1.6}}}},
 {"data": {"name": "s"}, "mark": {"type": "circle", "size": 58, "opacity": 1, "invalid": "filter"},
  "encoding": {"x": {"field": "Be", "type": "quantitative", "scale": {"domain": [0, 399.5], "nice": false, "zero": false}, "axis": {"values": [0,50,100,150,200,250,300,350], "labels": false, "ticks": false, "title": null}}, "y": {"field": "SSA", "type": "quantitative", "scale": {"domain": [0.1748, 0.303], "nice": false, "zero": false}, "axis": {"values": [0.175,0.1875,0.2,0.2125,0.225,0.2375,0.25,0.2625,0.275,0.2875,0.3], "format": ".3f", "labelExpr": "round(datum.value*1000) % 25 === 0 ? datum.label : ''", "tickOpacity": {"condition": {"test": "round(datum.value*1000) % 25 === 0", "value": 1}, "value": 0}, "title": null}}, "color": {"field": "g", "type": "nominal", "scale": {"domain": ["Winter2022","Spring2022","Summer2022","Autumn2022","Winter2023"]}, "legend": {"title": "Survey", "orient": "none", "legendX": 20, "legendY": 1160, "direction": "horizontal", "titleOrient": "left", "symbolType": "M -1 0 L 1 0 M 0.45 0 A 0.45 0.45 0 1 1 -0.45 0 A 0.45 0.45 0 1 1 0.45 0 Z", "symbolSize": 289, "symbolStrokeWidth": 1.6}}}},
 {"data": {"name": "fit"}, "transform": [{"filter": "datum.xv==='Be' && datum.yv==='SSA'"}], "mark": {"type": "rule", "strokeWidth": 1.6},
  "encoding": {"x": {"field": "x1", "type": "quantitative", "scale": {"domain": [0, 399.5], "nice": false, "zero": false}, "axis": {"values": [0,50,100,150,200,250,300,350], "labels": false, "ticks": false, "title": null}}, "x2": {"field": "x2"}, "y": {"field": "y1", "type": "quantitative", "scale": {"domain": [0.1748, 0.303], "nice": false, "zero": false}, "axis": {"values": [0.175,0.1875,0.2,0.2125,0.225,0.2375,0.25,0.2625,0.275,0.2875,0.3], "format": ".3f", "labelExpr": "round(datum.value*1000) % 25 === 0 ? datum.label : ''", "tickOpacity": {"condition": {"test": "round(datum.value*1000) % 25 === 0", "value": 1}, "value": 0}, "title": null}}, "y2": {"field": "y2"}, "stroke": {"field": "g", "type": "nominal", "scale": {"domain": ["Winter2022","Spring2022","Summer2022","Autumn2022","Winter2023"], "range": ["#1B9E77","#D95F02","#7570B3","#E7298A","#66A61E"]}, "legend": {"title": "Survey", "orient": "none", "legendX": 20, "legendY": 1160, "direction": "horizontal", "titleOrient": "left", "symbolType": "M -1 0 L 1 0 M 0.45 0 A 0.45 0.45 0 1 1 -0.45 0 A 0.45 0.45 0 1 1 0.45 0 Z", "symbolSize": 289, "symbolStrokeWidth": 1.6}}}}
]},
{"width": 354, "height": 245, "layer": [
 {"data": {"name": "lab"}, "transform": [{"filter": "datum.xv==='Pb' && datum.yv==='SSA'"}], "mark": {"type": "text", "align": "left", "baseline": "middle", "fontSize": 14},
  "encoding": {"x": {"field": "x", "type": "quantitative", "scale": {"domain": [9.2, 169.5], "nice": false, "zero": false}, "axis": {"values": [20,40,60,80,100,120,140,160], "labels": false, "ticks": false, "title": null}}, "y": {"field": "y", "type": "quantitative", "scale": {"domain": [0.1748, 0.303], "nice": false, "zero": false}, "axis": {"values": [0.175,0.1875,0.2,0.2125,0.225,0.2375,0.25,0.2625,0.275,0.2875,0.3], "labels": false, "ticks": false, "title": null}}, "text": {"field": "t"}, "fill": {"field": "g", "type": "nominal", "scale": {"domain": ["Winter2022","Spring2022","Summer2022","Autumn2022","Winter2023"], "range": ["#1B9E77","#D95F02","#7570B3","#E7298A","#66A61E"]}, "legend": {"title": "Survey", "orient": "none", "legendX": 20, "legendY": 1160, "direction": "horizontal", "titleOrient": "left", "symbolType": "M -1 0 L 1 0 M 0.45 0 A 0.45 0.45 0 1 1 -0.45 0 A 0.45 0.45 0 1 1 0.45 0 Z", "symbolSize": 289, "symbolStrokeWidth": 1.6}}}},
 {"data": {"name": "s"}, "mark": {"type": "circle", "size": 58, "opacity": 1, "invalid": "filter"},
  "encoding": {"x": {"field": "Pb", "type": "quantitative", "scale": {"domain": [9.2, 169.5], "nice": false, "zero": false}, "axis": {"values": [20,40,60,80,100,120,140,160], "labels": false, "ticks": false, "title": null}}, "y": {"field": "SSA", "type": "quantitative", "scale": {"domain": [0.1748, 0.303], "nice": false, "zero": false}, "axis": {"values": [0.175,0.1875,0.2,0.2125,0.225,0.2375,0.25,0.2625,0.275,0.2875,0.3], "labels": false, "ticks": false, "title": null}}, "color": {"field": "g", "type": "nominal", "scale": {"domain": ["Winter2022","Spring2022","Summer2022","Autumn2022","Winter2023"]}, "legend": {"title": "Survey", "orient": "none", "legendX": 20, "legendY": 1160, "direction": "horizontal", "titleOrient": "left", "symbolType": "M -1 0 L 1 0 M 0.45 0 A 0.45 0.45 0 1 1 -0.45 0 A 0.45 0.45 0 1 1 0.45 0 Z", "symbolSize": 289, "symbolStrokeWidth": 1.6}}}},
 {"data": {"name": "fit"}, "transform": [{"filter": "datum.xv==='Pb' && datum.yv==='SSA'"}], "mark": {"type": "rule", "strokeWidth": 1.6},
  "encoding": {"x": {"field": "x1", "type": "quantitative", "scale": {"domain": [9.2, 169.5], "nice": false, "zero": false}, "axis": {"values": [20,40,60,80,100,120,140,160], "labels": false, "ticks": false, "title": null}}, "x2": {"field": "x2"}, "y": {"field": "y1", "type": "quantitative", "scale": {"domain": [0.1748, 0.303], "nice": false, "zero": false}, "axis": {"values": [0.175,0.1875,0.2,0.2125,0.225,0.2375,0.25,0.2625,0.275,0.2875,0.3], "labels": false, "ticks": false, "title": null}}, "y2": {"field": "y2"}, "stroke": {"field": "g", "type": "nominal", "scale": {"domain": ["Winter2022","Spring2022","Summer2022","Autumn2022","Winter2023"], "range": ["#1B9E77","#D95F02","#7570B3","#E7298A","#66A61E"]}, "legend": {"title": "Survey", "orient": "none", "legendX": 20, "legendY": 1160, "direction": "horizontal", "titleOrient": "left", "symbolType": "M -1 0 L 1 0 M 0.45 0 A 0.45 0.45 0 1 1 -0.45 0 A 0.45 0.45 0 1 1 0.45 0 Z", "symbolSize": 289, "symbolStrokeWidth": 1.6}}}}
]},
{"width": 354, "height": 245, "layer": [
 {"data": {"name": "lab"}, "transform": [{"filter": "datum.xv==='Cs' && datum.yv==='SSA'"}], "mark": {"type": "text", "align": "left", "baseline": "middle", "fontSize": 14},
  "encoding": {"x": {"field": "x", "type": "quantitative", "scale": {"domain": [7.96, 25.81], "nice": false, "zero": false}, "axis": {"values": [10,12.5,15,17.5,20,22.5,25], "labels": false, "ticks": false, "title": null}}, "y": {"field": "y", "type": "quantitative", "scale": {"domain": [0.1748, 0.303], "nice": false, "zero": false}, "axis": {"values": [0.175,0.1875,0.2,0.2125,0.225,0.2375,0.25,0.2625,0.275,0.2875,0.3], "labels": false, "ticks": false, "title": null}}, "text": {"field": "t"}, "fill": {"field": "g", "type": "nominal", "scale": {"domain": ["Winter2022","Spring2022","Summer2022","Autumn2022","Winter2023"], "range": ["#1B9E77","#D95F02","#7570B3","#E7298A","#66A61E"]}, "legend": {"title": "Survey", "orient": "none", "legendX": 20, "legendY": 1160, "direction": "horizontal", "titleOrient": "left", "symbolType": "M -1 0 L 1 0 M 0.45 0 A 0.45 0.45 0 1 1 -0.45 0 A 0.45 0.45 0 1 1 0.45 0 Z", "symbolSize": 289, "symbolStrokeWidth": 1.6}}}},
 {"data": {"name": "s"}, "mark": {"type": "circle", "size": 58, "opacity": 1, "invalid": "filter"},
  "encoding": {"x": {"field": "Cs", "type": "quantitative", "scale": {"domain": [7.96, 25.81], "nice": false, "zero": false}, "axis": {"values": [10,12.5,15,17.5,20,22.5,25], "labels": false, "ticks": false, "title": null}}, "y": {"field": "SSA", "type": "quantitative", "scale": {"domain": [0.1748, 0.303], "nice": false, "zero": false}, "axis": {"values": [0.175,0.1875,0.2,0.2125,0.225,0.2375,0.25,0.2625,0.275,0.2875,0.3], "labels": false, "ticks": false, "title": null}}, "color": {"field": "g", "type": "nominal", "scale": {"domain": ["Winter2022","Spring2022","Summer2022","Autumn2022","Winter2023"]}, "legend": {"title": "Survey", "orient": "none", "legendX": 20, "legendY": 1160, "direction": "horizontal", "titleOrient": "left", "symbolType": "M -1 0 L 1 0 M 0.45 0 A 0.45 0.45 0 1 1 -0.45 0 A 0.45 0.45 0 1 1 0.45 0 Z", "symbolSize": 289, "symbolStrokeWidth": 1.6}}}},
 {"data": {"name": "fit"}, "transform": [{"filter": "datum.xv==='Cs' && datum.yv==='SSA'"}], "mark": {"type": "rule", "strokeWidth": 1.6},
  "encoding": {"x": {"field": "x1", "type": "quantitative", "scale": {"domain": [7.96, 25.81], "nice": false, "zero": false}, "axis": {"values": [10,12.5,15,17.5,20,22.5,25], "labels": false, "ticks": false, "title": null}}, "x2": {"field": "x2"}, "y": {"field": "y1", "type": "quantitative", "scale": {"domain": [0.1748, 0.303], "nice": false, "zero": false}, "axis": {"values": [0.175,0.1875,0.2,0.2125,0.225,0.2375,0.25,0.2625,0.275,0.2875,0.3], "labels": false, "ticks": false, "title": null}}, "y2": {"field": "y2"}, "stroke": {"field": "g", "type": "nominal", "scale": {"domain": ["Winter2022","Spring2022","Summer2022","Autumn2022","Winter2023"], "range": ["#1B9E77","#D95F02","#7570B3","#E7298A","#66A61E"]}, "legend": {"title": "Survey", "orient": "none", "legendX": 20, "legendY": 1160, "direction": "horizontal", "titleOrient": "left", "symbolType": "M -1 0 L 1 0 M 0.45 0 A 0.45 0.45 0 1 1 -0.45 0 A 0.45 0.45 0 1 1 0.45 0 Z", "symbolSize": 289, "symbolStrokeWidth": 1.6}}}}
]},
{"width": 42, "height": 245, "view": {"fill": "#D9D9D9", "stroke": null}, "data": {"values": [{"t": "SSA (m² g⁻¹)"}]}, "mark": {"type": "text", "fontSize": 25.5, "color": "#1A1A1A", "angle": 90}, "encoding": {"text": {"field": "t"}}},

{"width": 354, "height": 245, "layer": [
 {"data": {"name": "lab"}, "transform": [{"filter": "datum.xv==='Be' && datum.yv==='TOC'"}], "mark": {"type": "text", "align": "left", "baseline": "middle", "fontSize": 14},
  "encoding": {"x": {"field": "x", "type": "quantitative", "scale": {"domain": [0, 399.5], "nice": false, "zero": false}, "axis": {"values": [0,50,100,150,200,250,300,350], "labels": false, "ticks": false, "title": null}}, "y": {"field": "y", "type": "quantitative", "scale": {"domain": [2.92, 8.18], "nice": false, "zero": false}, "axis": {"values": [3,3.5,4,4.5,5,5.5,6,6.5,7,7.5,8], "format": "d", "labelExpr": "datum.value % 1 === 0 ? datum.label : ''", "tickOpacity": {"condition": {"test": "datum.value % 1 === 0", "value": 1}, "value": 0}, "title": null}}, "text": {"field": "t"}, "fill": {"field": "g", "type": "nominal", "scale": {"domain": ["Winter2022","Spring2022","Summer2022","Autumn2022","Winter2023"], "range": ["#1B9E77","#D95F02","#7570B3","#E7298A","#66A61E"]}, "legend": {"title": "Survey", "orient": "none", "legendX": 20, "legendY": 1160, "direction": "horizontal", "titleOrient": "left", "symbolType": "M -1 0 L 1 0 M 0.45 0 A 0.45 0.45 0 1 1 -0.45 0 A 0.45 0.45 0 1 1 0.45 0 Z", "symbolSize": 289, "symbolStrokeWidth": 1.6}}}},
 {"data": {"name": "s"}, "mark": {"type": "circle", "size": 58, "opacity": 1, "invalid": "filter"},
  "encoding": {"x": {"field": "Be", "type": "quantitative", "scale": {"domain": [0, 399.5], "nice": false, "zero": false}, "axis": {"values": [0,50,100,150,200,250,300,350], "labels": false, "ticks": false, "title": null}}, "y": {"field": "TOC", "type": "quantitative", "scale": {"domain": [2.92, 8.18], "nice": false, "zero": false}, "axis": {"values": [3,3.5,4,4.5,5,5.5,6,6.5,7,7.5,8], "format": "d", "labelExpr": "datum.value % 1 === 0 ? datum.label : ''", "tickOpacity": {"condition": {"test": "datum.value % 1 === 0", "value": 1}, "value": 0}, "title": null}}, "color": {"field": "g", "type": "nominal", "scale": {"domain": ["Winter2022","Spring2022","Summer2022","Autumn2022","Winter2023"]}, "legend": {"title": "Survey", "orient": "none", "legendX": 20, "legendY": 1160, "direction": "horizontal", "titleOrient": "left", "symbolType": "M -1 0 L 1 0 M 0.45 0 A 0.45 0.45 0 1 1 -0.45 0 A 0.45 0.45 0 1 1 0.45 0 Z", "symbolSize": 289, "symbolStrokeWidth": 1.6}}}},
 {"data": {"name": "fit"}, "transform": [{"filter": "datum.xv==='Be' && datum.yv==='TOC'"}], "mark": {"type": "rule", "strokeWidth": 1.6},
  "encoding": {"x": {"field": "x1", "type": "quantitative", "scale": {"domain": [0, 399.5], "nice": false, "zero": false}, "axis": {"values": [0,50,100,150,200,250,300,350], "labels": false, "ticks": false, "title": null}}, "x2": {"field": "x2"}, "y": {"field": "y1", "type": "quantitative", "scale": {"domain": [2.92, 8.18], "nice": false, "zero": false}, "axis": {"values": [3,3.5,4,4.5,5,5.5,6,6.5,7,7.5,8], "format": "d", "labelExpr": "datum.value % 1 === 0 ? datum.label : ''", "tickOpacity": {"condition": {"test": "datum.value % 1 === 0", "value": 1}, "value": 0}, "title": null}}, "y2": {"field": "y2"}, "stroke": {"field": "g", "type": "nominal", "scale": {"domain": ["Winter2022","Spring2022","Summer2022","Autumn2022","Winter2023"], "range": ["#1B9E77","#D95F02","#7570B3","#E7298A","#66A61E"]}, "legend": {"title": "Survey", "orient": "none", "legendX": 20, "legendY": 1160, "direction": "horizontal", "titleOrient": "left", "symbolType": "M -1 0 L 1 0 M 0.45 0 A 0.45 0.45 0 1 1 -0.45 0 A 0.45 0.45 0 1 1 0.45 0 Z", "symbolSize": 289, "symbolStrokeWidth": 1.6}}}}
]},
{"width": 354, "height": 245, "layer": [
 {"data": {"name": "lab"}, "transform": [{"filter": "datum.xv==='Pb' && datum.yv==='TOC'"}], "mark": {"type": "text", "align": "left", "baseline": "middle", "fontSize": 14},
  "encoding": {"x": {"field": "x", "type": "quantitative", "scale": {"domain": [9.2, 169.5], "nice": false, "zero": false}, "axis": {"values": [20,40,60,80,100,120,140,160], "labels": false, "ticks": false, "title": null}}, "y": {"field": "y", "type": "quantitative", "scale": {"domain": [2.92, 8.18], "nice": false, "zero": false}, "axis": {"values": [3,3.5,4,4.5,5,5.5,6,6.5,7,7.5,8], "labels": false, "ticks": false, "title": null}}, "text": {"field": "t"}, "fill": {"field": "g", "type": "nominal", "scale": {"domain": ["Winter2022","Spring2022","Summer2022","Autumn2022","Winter2023"], "range": ["#1B9E77","#D95F02","#7570B3","#E7298A","#66A61E"]}, "legend": {"title": "Survey", "orient": "none", "legendX": 20, "legendY": 1160, "direction": "horizontal", "titleOrient": "left", "symbolType": "M -1 0 L 1 0 M 0.45 0 A 0.45 0.45 0 1 1 -0.45 0 A 0.45 0.45 0 1 1 0.45 0 Z", "symbolSize": 289, "symbolStrokeWidth": 1.6}}}},
 {"data": {"name": "s"}, "mark": {"type": "circle", "size": 58, "opacity": 1, "invalid": "filter"},
  "encoding": {"x": {"field": "Pb", "type": "quantitative", "scale": {"domain": [9.2, 169.5], "nice": false, "zero": false}, "axis": {"values": [20,40,60,80,100,120,140,160], "labels": false, "ticks": false, "title": null}}, "y": {"field": "TOC", "type": "quantitative", "scale": {"domain": [2.92, 8.18], "nice": false, "zero": false}, "axis": {"values": [3,3.5,4,4.5,5,5.5,6,6.5,7,7.5,8], "labels": false, "ticks": false, "title": null}}, "color": {"field": "g", "type": "nominal", "scale": {"domain": ["Winter2022","Spring2022","Summer2022","Autumn2022","Winter2023"]}, "legend": {"title": "Survey", "orient": "none", "legendX": 20, "legendY": 1160, "direction": "horizontal", "titleOrient": "left", "symbolType": "M -1 0 L 1 0 M 0.45 0 A 0.45 0.45 0 1 1 -0.45 0 A 0.45 0.45 0 1 1 0.45 0 Z", "symbolSize": 289, "symbolStrokeWidth": 1.6}}}},
 {"data": {"name": "fit"}, "transform": [{"filter": "datum.xv==='Pb' && datum.yv==='TOC'"}], "mark": {"type": "rule", "strokeWidth": 1.6},
  "encoding": {"x": {"field": "x1", "type": "quantitative", "scale": {"domain": [9.2, 169.5], "nice": false, "zero": false}, "axis": {"values": [20,40,60,80,100,120,140,160], "labels": false, "ticks": false, "title": null}}, "x2": {"field": "x2"}, "y": {"field": "y1", "type": "quantitative", "scale": {"domain": [2.92, 8.18], "nice": false, "zero": false}, "axis": {"values": [3,3.5,4,4.5,5,5.5,6,6.5,7,7.5,8], "labels": false, "ticks": false, "title": null}}, "y2": {"field": "y2"}, "stroke": {"field": "g", "type": "nominal", "scale": {"domain": ["Winter2022","Spring2022","Summer2022","Autumn2022","Winter2023"], "range": ["#1B9E77","#D95F02","#7570B3","#E7298A","#66A61E"]}, "legend": {"title": "Survey", "orient": "none", "legendX": 20, "legendY": 1160, "direction": "horizontal", "titleOrient": "left", "symbolType": "M -1 0 L 1 0 M 0.45 0 A 0.45 0.45 0 1 1 -0.45 0 A 0.45 0.45 0 1 1 0.45 0 Z", "symbolSize": 289, "symbolStrokeWidth": 1.6}}}}
]},
{"width": 354, "height": 245, "layer": [
 {"data": {"name": "lab"}, "transform": [{"filter": "datum.xv==='Cs' && datum.yv==='TOC'"}], "mark": {"type": "text", "align": "left", "baseline": "middle", "fontSize": 14},
  "encoding": {"x": {"field": "x", "type": "quantitative", "scale": {"domain": [7.96, 25.81], "nice": false, "zero": false}, "axis": {"values": [10,12.5,15,17.5,20,22.5,25], "labels": false, "ticks": false, "title": null}}, "y": {"field": "y", "type": "quantitative", "scale": {"domain": [2.92, 8.18], "nice": false, "zero": false}, "axis": {"values": [3,3.5,4,4.5,5,5.5,6,6.5,7,7.5,8], "labels": false, "ticks": false, "title": null}}, "text": {"field": "t"}, "fill": {"field": "g", "type": "nominal", "scale": {"domain": ["Winter2022","Spring2022","Summer2022","Autumn2022","Winter2023"], "range": ["#1B9E77","#D95F02","#7570B3","#E7298A","#66A61E"]}, "legend": {"title": "Survey", "orient": "none", "legendX": 20, "legendY": 1160, "direction": "horizontal", "titleOrient": "left", "symbolType": "M -1 0 L 1 0 M 0.45 0 A 0.45 0.45 0 1 1 -0.45 0 A 0.45 0.45 0 1 1 0.45 0 Z", "symbolSize": 289, "symbolStrokeWidth": 1.6}}}},
 {"data": {"name": "s"}, "mark": {"type": "circle", "size": 58, "opacity": 1, "invalid": "filter"},
  "encoding": {"x": {"field": "Cs", "type": "quantitative", "scale": {"domain": [7.96, 25.81], "nice": false, "zero": false}, "axis": {"values": [10,12.5,15,17.5,20,22.5,25], "labels": false, "ticks": false, "title": null}}, "y": {"field": "TOC", "type": "quantitative", "scale": {"domain": [2.92, 8.18], "nice": false, "zero": false}, "axis": {"values": [3,3.5,4,4.5,5,5.5,6,6.5,7,7.5,8], "labels": false, "ticks": false, "title": null}}, "color": {"field": "g", "type": "nominal", "scale": {"domain": ["Winter2022","Spring2022","Summer2022","Autumn2022","Winter2023"]}, "legend": {"title": "Survey", "orient": "none", "legendX": 20, "legendY": 1160, "direction": "horizontal", "titleOrient": "left", "symbolType": "M -1 0 L 1 0 M 0.45 0 A 0.45 0.45 0 1 1 -0.45 0 A 0.45 0.45 0 1 1 0.45 0 Z", "symbolSize": 289, "symbolStrokeWidth": 1.6}}}},
 {"data": {"name": "fit"}, "transform": [{"filter": "datum.xv==='Cs' && datum.yv==='TOC'"}], "mark": {"type": "rule", "strokeWidth": 1.6},
  "encoding": {"x": {"field": "x1", "type": "quantitative", "scale": {"domain": [7.96, 25.81], "nice": false, "zero": false}, "axis": {"values": [10,12.5,15,17.5,20,22.5,25], "labels": false, "ticks": false, "title": null}}, "x2": {"field": "x2"}, "y": {"field": "y1", "type": "quantitative", "scale": {"domain": [2.92, 8.18], "nice": false, "zero": false}, "axis": {"values": [3,3.5,4,4.5,5,5.5,6,6.5,7,7.5,8], "labels": false, "ticks": false, "title": null}}, "y2": {"field": "y2"}, "stroke": {"field": "g", "type": "nominal", "scale": {"domain": ["Winter2022","Spring2022","Summer2022","Autumn2022","Winter2023"], "range": ["#1B9E77","#D95F02","#7570B3","#E7298A","#66A61E"]}, "legend": {"title": "Survey", "orient": "none", "legendX": 20, "legendY": 1160, "direction": "horizontal", "titleOrient": "left", "symbolType": "M -1 0 L 1 0 M 0.45 0 A 0.45 0.45 0 1 1 -0.45 0 A 0.45 0.45 0 1 1 0.45 0 Z", "symbolSize": 289, "symbolStrokeWidth": 1.6}}}}
]},
{"width": 42, "height": 245, "view": {"fill": "#D9D9D9", "stroke": null}, "data": {"values": [{"t": "TOC (%)"}]}, "mark": {"type": "text", "fontSize": 25.5, "color": "#1A1A1A", "angle": 90}, "encoding": {"text": {"field": "t"}}},

{"width": 354, "height": 245, "layer": [
 {"data": {"name": "lab"}, "transform": [{"filter": "datum.xv==='Be' && datum.yv==='TN'"}], "mark": {"type": "text", "align": "left", "baseline": "middle", "fontSize": 14},
  "encoding": {"x": {"field": "x", "type": "quantitative", "scale": {"domain": [0, 399.5], "nice": false, "zero": false}, "axis": {"values": [0,50,100,150,200,250,300,350], "format": "d", "labelExpr": "datum.value % 100 === 0 ? datum.label : ''", "tickOpacity": {"condition": {"test": "datum.value % 100 === 0", "value": 1}, "value": 0}, "title": null}}, "y": {"field": "y", "type": "quantitative", "scale": {"domain": [0.307, 1.047], "nice": false, "zero": false}, "axis": {"values": [0.4,0.5,0.6,0.7,0.8,0.9,1.0], "format": ".1f", "labelExpr": "round(datum.value*10) % 2 === 1 ? datum.label : ''", "tickOpacity": {"condition": {"test": "round(datum.value*10) % 2 === 1", "value": 1}, "value": 0}, "title": null}}, "text": {"field": "t"}, "fill": {"field": "g", "type": "nominal", "scale": {"domain": ["Winter2022","Spring2022","Summer2022","Autumn2022","Winter2023"], "range": ["#1B9E77","#D95F02","#7570B3","#E7298A","#66A61E"]}, "legend": {"title": "Survey", "orient": "none", "legendX": 20, "legendY": 1160, "direction": "horizontal", "titleOrient": "left", "symbolType": "M -1 0 L 1 0 M 0.45 0 A 0.45 0.45 0 1 1 -0.45 0 A 0.45 0.45 0 1 1 0.45 0 Z", "symbolSize": 289, "symbolStrokeWidth": 1.6}}}},
 {"data": {"name": "s"}, "mark": {"type": "circle", "size": 58, "opacity": 1, "invalid": "filter"},
  "encoding": {"x": {"field": "Be", "type": "quantitative", "scale": {"domain": [0, 399.5], "nice": false, "zero": false}, "axis": {"values": [0,50,100,150,200,250,300,350], "format": "d", "labelExpr": "datum.value % 100 === 0 ? datum.label : ''", "tickOpacity": {"condition": {"test": "datum.value % 100 === 0", "value": 1}, "value": 0}, "title": null}}, "y": {"field": "TN", "type": "quantitative", "scale": {"domain": [0.307, 1.047], "nice": false, "zero": false}, "axis": {"values": [0.4,0.5,0.6,0.7,0.8,0.9,1.0], "format": ".1f", "labelExpr": "round(datum.value*10) % 2 === 1 ? datum.label : ''", "tickOpacity": {"condition": {"test": "round(datum.value*10) % 2 === 1", "value": 1}, "value": 0}, "title": null}}, "color": {"field": "g", "type": "nominal", "scale": {"domain": ["Winter2022","Spring2022","Summer2022","Autumn2022","Winter2023"]}, "legend": {"title": "Survey", "orient": "none", "legendX": 20, "legendY": 1160, "direction": "horizontal", "titleOrient": "left", "symbolType": "M -1 0 L 1 0 M 0.45 0 A 0.45 0.45 0 1 1 -0.45 0 A 0.45 0.45 0 1 1 0.45 0 Z", "symbolSize": 289, "symbolStrokeWidth": 1.6}}}},
 {"data": {"name": "fit"}, "transform": [{"filter": "datum.xv==='Be' && datum.yv==='TN'"}], "mark": {"type": "rule", "strokeWidth": 1.6},
  "encoding": {"x": {"field": "x1", "type": "quantitative", "scale": {"domain": [0, 399.5], "nice": false, "zero": false}, "axis": {"values": [0,50,100,150,200,250,300,350], "format": "d", "labelExpr": "datum.value % 100 === 0 ? datum.label : ''", "tickOpacity": {"condition": {"test": "datum.value % 100 === 0", "value": 1}, "value": 0}, "title": null}}, "x2": {"field": "x2"}, "y": {"field": "y1", "type": "quantitative", "scale": {"domain": [0.307, 1.047], "nice": false, "zero": false}, "axis": {"values": [0.4,0.5,0.6,0.7,0.8,0.9,1.0], "format": ".1f", "labelExpr": "round(datum.value*10) % 2 === 1 ? datum.label : ''", "tickOpacity": {"condition": {"test": "round(datum.value*10) % 2 === 1", "value": 1}, "value": 0}, "title": null}}, "y2": {"field": "y2"}, "stroke": {"field": "g", "type": "nominal", "scale": {"domain": ["Winter2022","Spring2022","Summer2022","Autumn2022","Winter2023"], "range": ["#1B9E77","#D95F02","#7570B3","#E7298A","#66A61E"]}, "legend": {"title": "Survey", "orient": "none", "legendX": 20, "legendY": 1160, "direction": "horizontal", "titleOrient": "left", "symbolType": "M -1 0 L 1 0 M 0.45 0 A 0.45 0.45 0 1 1 -0.45 0 A 0.45 0.45 0 1 1 0.45 0 Z", "symbolSize": 289, "symbolStrokeWidth": 1.6}}}}
]},
{"width": 354, "height": 245, "layer": [
 {"data": {"name": "lab"}, "transform": [{"filter": "datum.xv==='Pb' && datum.yv==='TN'"}], "mark": {"type": "text", "align": "left", "baseline": "middle", "fontSize": 14},
  "encoding": {"x": {"field": "x", "type": "quantitative", "scale": {"domain": [9.2, 169.5], "nice": false, "zero": false}, "axis": {"values": [20,40,60,80,100,120,140,160], "format": "d", "labelExpr": "datum.value % 40 === 0 ? datum.label : ''", "tickOpacity": {"condition": {"test": "datum.value % 40 === 0", "value": 1}, "value": 0}, "title": "Activity Concentration (Bq kg⁻¹)", "titlePadding": 10}}, "y": {"field": "y", "type": "quantitative", "scale": {"domain": [0.307, 1.047], "nice": false, "zero": false}, "axis": {"values": [0.4,0.5,0.6,0.7,0.8,0.9,1.0], "labels": false, "ticks": false, "title": null}}, "text": {"field": "t"}, "fill": {"field": "g", "type": "nominal", "scale": {"domain": ["Winter2022","Spring2022","Summer2022","Autumn2022","Winter2023"], "range": ["#1B9E77","#D95F02","#7570B3","#E7298A","#66A61E"]}, "legend": {"title": "Survey", "orient": "none", "legendX": 20, "legendY": 1160, "direction": "horizontal", "titleOrient": "left", "symbolType": "M -1 0 L 1 0 M 0.45 0 A 0.45 0.45 0 1 1 -0.45 0 A 0.45 0.45 0 1 1 0.45 0 Z", "symbolSize": 289, "symbolStrokeWidth": 1.6}}}},
 {"data": {"name": "s"}, "mark": {"type": "circle", "size": 58, "opacity": 1, "invalid": "filter"},
  "encoding": {"x": {"field": "Pb", "type": "quantitative", "scale": {"domain": [9.2, 169.5], "nice": false, "zero": false}, "axis": {"values": [20,40,60,80,100,120,140,160], "format": "d", "labelExpr": "datum.value % 40 === 0 ? datum.label : ''", "tickOpacity": {"condition": {"test": "datum.value % 40 === 0", "value": 1}, "value": 0}, "title": "Activity Concentration (Bq kg⁻¹)", "titlePadding": 10}}, "y": {"field": "TN", "type": "quantitative", "scale": {"domain": [0.307, 1.047], "nice": false, "zero": false}, "axis": {"values": [0.4,0.5,0.6,0.7,0.8,0.9,1.0], "labels": false, "ticks": false, "title": null}}, "color": {"field": "g", "type": "nominal", "scale": {"domain": ["Winter2022","Spring2022","Summer2022","Autumn2022","Winter2023"]}, "legend": {"title": "Survey", "orient": "none", "legendX": 20, "legendY": 1160, "direction": "horizontal", "titleOrient": "left", "symbolType": "M -1 0 L 1 0 M 0.45 0 A 0.45 0.45 0 1 1 -0.45 0 A 0.45 0.45 0 1 1 0.45 0 Z", "symbolSize": 289, "symbolStrokeWidth": 1.6}}}},
 {"data": {"name": "fit"}, "transform": [{"filter": "datum.xv==='Pb' && datum.yv==='TN'"}], "mark": {"type": "rule", "strokeWidth": 1.6},
  "encoding": {"x": {"field": "x1", "type": "quantitative", "scale": {"domain": [9.2, 169.5], "nice": false, "zero": false}, "axis": {"values": [20,40,60,80,100,120,140,160], "format": "d", "labelExpr": "datum.value % 40 === 0 ? datum.label : ''", "tickOpacity": {"condition": {"test": "datum.value % 40 === 0", "value": 1}, "value": 0}, "title": "Activity Concentration (Bq kg⁻¹)", "titlePadding": 10}}, "x2": {"field": "x2"}, "y": {"field": "y1", "type": "quantitative", "scale": {"domain": [0.307, 1.047], "nice": false, "zero": false}, "axis": {"values": [0.4,0.5,0.6,0.7,0.8,0.9,1.0], "labels": false, "ticks": false, "title": null}}, "y2": {"field": "y2"}, "stroke": {"field": "g", "type": "nominal", "scale": {"domain": ["Winter2022","Spring2022","Summer2022","Autumn2022","Winter2023"], "range": ["#1B9E77","#D95F02","#7570B3","#E7298A","#66A61E"]}, "legend": {"title": "Survey", "orient": "none", "legendX": 20, "legendY": 1160, "direction": "horizontal", "titleOrient": "left", "symbolType": "M -1 0 L 1 0 M 0.45 0 A 0.45 0.45 0 1 1 -0.45 0 A 0.45 0.45 0 1 1 0.45 0 Z", "symbolSize": 289, "symbolStrokeWidth": 1.6}}}}
]},
{"width": 354, "height": 245, "layer": [
 {"data": {"name": "lab"}, "transform": [{"filter": "datum.xv==='Cs' && datum.yv==='TN'"}], "mark": {"type": "text", "align": "left", "baseline": "middle", "fontSize": 14},
  "encoding": {"x": {"field": "x", "type": "quantitative", "scale": {"domain": [7.96, 25.81], "nice": false, "zero": false}, "axis": {"values": [10,12.5,15,17.5,20,22.5,25], "format": "d", "labelExpr": "datum.value % 5 === 0 ? datum.label : ''", "tickOpacity": {"condition": {"test": "datum.value % 5 === 0", "value": 1}, "value": 0}, "title": null}}, "y": {"field": "y", "type": "quantitative", "scale": {"domain": [0.307, 1.047], "nice": false, "zero": false}, "axis": {"values": [0.4,0.5,0.6,0.7,0.8,0.9,1.0], "labels": false, "ticks": false, "title": null}}, "text": {"field": "t"}, "fill": {"field": "g", "type": "nominal", "scale": {"domain": ["Winter2022","Spring2022","Summer2022","Autumn2022","Winter2023"], "range": ["#1B9E77","#D95F02","#7570B3","#E7298A","#66A61E"]}, "legend": {"title": "Survey", "orient": "none", "legendX": 20, "legendY": 1160, "direction": "horizontal", "titleOrient": "left", "symbolType": "M -1 0 L 1 0 M 0.45 0 A 0.45 0.45 0 1 1 -0.45 0 A 0.45 0.45 0 1 1 0.45 0 Z", "symbolSize": 289, "symbolStrokeWidth": 1.6}}}},
 {"data": {"name": "s"}, "mark": {"type": "circle", "size": 58, "opacity": 1, "invalid": "filter"},
  "encoding": {"x": {"field": "Cs", "type": "quantitative", "scale": {"domain": [7.96, 25.81], "nice": false, "zero": false}, "axis": {"values": [10,12.5,15,17.5,20,22.5,25], "format": "d", "labelExpr": "datum.value % 5 === 0 ? datum.label : ''", "tickOpacity": {"condition": {"test": "datum.value % 5 === 0", "value": 1}, "value": 0}, "title": null}}, "y": {"field": "TN", "type": "quantitative", "scale": {"domain": [0.307, 1.047], "nice": false, "zero": false}, "axis": {"values": [0.4,0.5,0.6,0.7,0.8,0.9,1.0], "labels": false, "ticks": false, "title": null}}, "color": {"field": "g", "type": "nominal", "scale": {"domain": ["Winter2022","Spring2022","Summer2022","Autumn2022","Winter2023"]}, "legend": {"title": "Survey", "orient": "none", "legendX": 20, "legendY": 1160, "direction": "horizontal", "titleOrient": "left", "symbolType": "M -1 0 L 1 0 M 0.45 0 A 0.45 0.45 0 1 1 -0.45 0 A 0.45 0.45 0 1 1 0.45 0 Z", "symbolSize": 289, "symbolStrokeWidth": 1.6}}}},
 {"data": {"name": "fit"}, "transform": [{"filter": "datum.xv==='Cs' && datum.yv==='TN'"}], "mark": {"type": "rule", "strokeWidth": 1.6},
  "encoding": {"x": {"field": "x1", "type": "quantitative", "scale": {"domain": [7.96, 25.81], "nice": false, "zero": false}, "axis": {"values": [10,12.5,15,17.5,20,22.5,25], "format": "d", "labelExpr": "datum.value % 5 === 0 ? datum.label : ''", "tickOpacity": {"condition": {"test": "datum.value % 5 === 0", "value": 1}, "value": 0}, "title": null}}, "x2": {"field": "x2"}, "y": {"field": "y1", "type": "quantitative", "scale": {"domain": [0.307, 1.047], "nice": false, "zero": false}, "axis": {"values": [0.4,0.5,0.6,0.7,0.8,0.9,1.0], "labels": false, "ticks": false, "title": null}}, "y2": {"field": "y2"}, "stroke": {"field": "g", "type": "nominal", "scale": {"domain": ["Winter2022","Spring2022","Summer2022","Autumn2022","Winter2023"], "range": ["#1B9E77","#D95F02","#7570B3","#E7298A","#66A61E"]}, "legend": {"title": "Survey", "orient": "none", "legendX": 20, "legendY": 1160, "direction": "horizontal", "titleOrient": "left", "symbolType": "M -1 0 L 1 0 M 0.45 0 A 0.45 0.45 0 1 1 -0.45 0 A 0.45 0.45 0 1 1 0.45 0 Z", "symbolSize": 289, "symbolStrokeWidth": 1.6}}}}
]},
{"width": 42, "height": 245, "view": {"fill": "#D9D9D9", "stroke": null}, "data": {"values": [{"t": "TN (%)"}]}, "mark": {"type": "text", "fontSize": 25.5, "color": "#1A1A1A", "angle": 90}, "encoding": {"text": {"field": "t"}}}
]
}
